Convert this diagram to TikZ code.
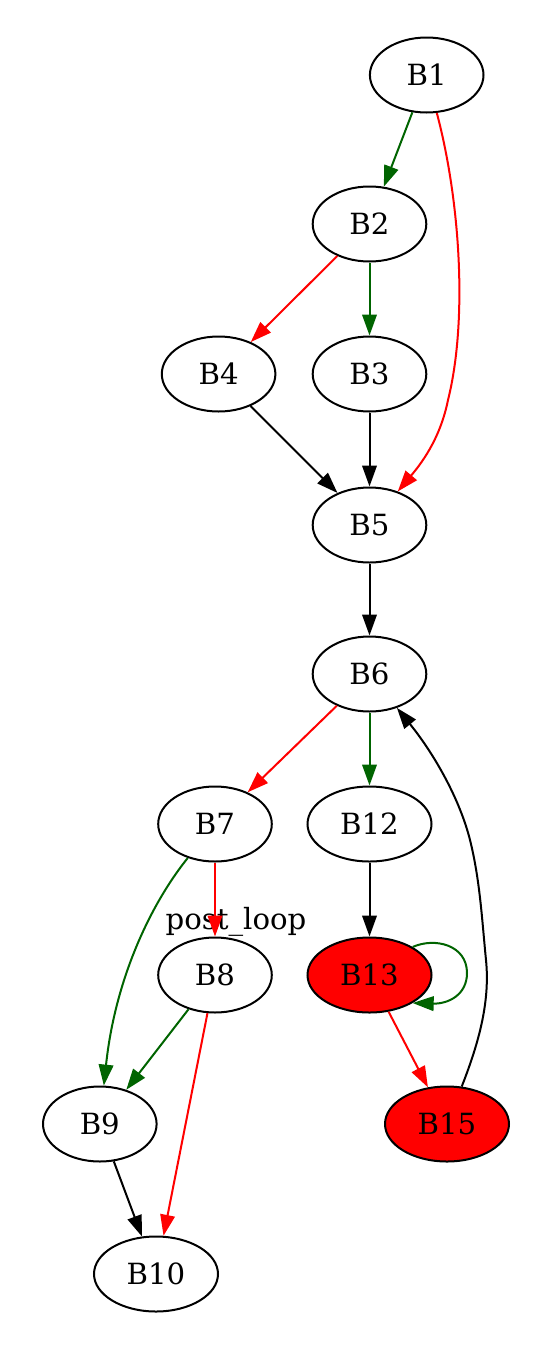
\documentclass[tikz,border=0pt]{standalone}
\usepackage{fontspec}
\setmainfont{DejaVu Serif}
\usetikzlibrary{shapes.geometric,arrows.meta}
\definecolor{gvgreen}{HTML}{006400}
\definecolor{gvred}{HTML}{FF0000}
\begin{document}
\begin{tikzpicture}[x=1pt,y=-1pt,
  bb/.style={ellipse,draw=black,line width=2pt,minimum width=113.6pt,minimum height=75pt,inner sep=0pt,font=\fontsize{29.2}{35}\selectfont},
  wide/.style={minimum width=124pt},
  hot/.style={fill=gvred},
  arr/.style={line width=2pt,-{Triangle[length=21pt,width=14.6pt]}},
  grn/.style={arr,draw=gvgreen},
  rd/.style={arr,draw=gvred},
  blk/.style={arr,draw=black},
  lbl/.style={font=\fontsize{29.2}{35}\selectfont,inner sep=0pt,anchor=base}]
\useasboundingbox (0,0) rectangle (550,1350);
\node[bb] (B1) at (426.7,75) {B1};
\node[bb] (B2) at (369.5,224) {B2};
\node[bb] (B4) at (218.6,374) {B4};
\node[bb] (B3) at (369.5,374) {B3};
\node[bb] (B5) at (369.5,525) {B5};
\node[bb] (B6) at (369.5,674) {B6};
\node[bb] (B7) at (215,824) {B7};
\node[bb,wide] (B12) at (369.5,824) {B12};
\node[bb] (B8) at (215,975) {B8};
\node[bb,wide,hot] (B13) at (369.5,975) {B13};
\node[bb] (B9) at (99.8,1124) {B9};
\node[bb,wide,hot] (B15) at (447,1124) {B15};
\node[bb,wide] (B10) at (156,1274) {B10};
\node[lbl] (lab) at (236,929.3) {post\_loop};
% edges
\draw[grn] (B1) -- (B2);
\draw[rd] (B1) .. controls (460,200) and (468,320) .. (448,400) .. controls (440,440) and (420,465) .. (B5);
\draw[grn] (B2) -- (B3);
\draw[rd] (B2) -- (B4);
\draw[blk] (B3) -- (B5);
\draw[blk] (B4) -- (B5);
\draw[blk] (B5) -- (B6);
\draw[grn] (B6) -- (B12);
\draw[rd] (B6) -- (B7);
\draw[grn] (B7) .. controls (150,905) and (115,980) .. (B9);
\draw[rd] (B7) -- (B8);
\draw[grn] (B8) -- (B9);
\draw[rd] (B8) -- (B10);
\draw[blk] (B9) -- (B10);
\draw[blk] (B12) -- (B13);
\draw[grn] (B13.33) .. controls (435,937) and (467,945) .. (467,973) .. controls (467,995) and (448,1004) .. (B13.-33);
\draw[rd] (B13) -- (B15);
\draw[blk] (B15) .. controls (480,1040) and (490,1000) .. (486,960) .. controls (482,920) and (480,880) .. (470,840) .. controls (460,800) and (435,755) .. (B6);
\end{tikzpicture}
\end{document}
